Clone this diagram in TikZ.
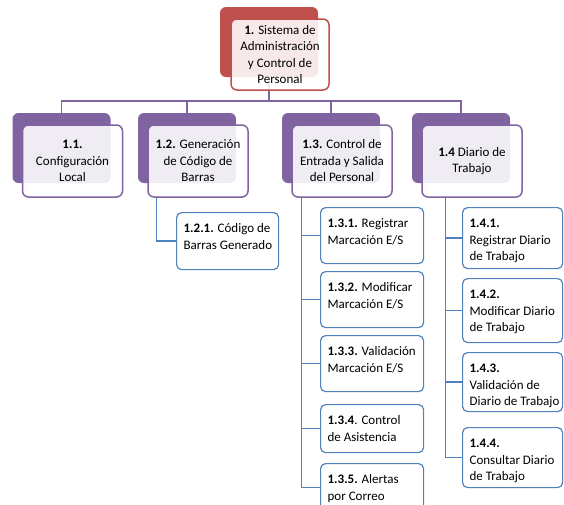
\documentclass[tikz,border=0pt]{standalone}
\usepackage{fontspec}
\setmainfont{Carlito}
\usetikzlibrary{backgrounds}
\definecolor{cred}{HTML}{C0504D}
\definecolor{cpurple}{HTML}{8064A2}
\definecolor{cblue}{HTML}{4F81BD}
\newcommand{\leafbox}[3]{\parbox[c][#1][t]{#2}{\begin{tabular}[t]{@{}l@{}}\rule{0pt}{20pt}#3\end{tabular}}}
\begin{document}
\begin{tikzpicture}[x=1pt,y=-1pt,
  font=\fontsize{13pt}{16.5pt}\selectfont,
  back/.style={fill=#1, rounded corners=6pt, minimum width=98pt, minimum height=70pt, inner sep=0pt},
  front/.style={draw=#1, line width=1.5pt, fill=white, fill opacity=0.88, text opacity=1,
    rounded corners=6pt, minimum width=100pt, minimum height=72pt, inner sep=0pt,
    align=center, text=black},
  leaf/.style={draw=cblue, line width=1.2pt, fill=white, rounded corners=5pt,
    inner xsep=7pt, inner ysep=0pt, anchor=north west},
  pconn/.style={draw=cpurple, line width=1.5pt},
  bconn/.style={draw=cblue, line width=1.5pt}]
\useasboundingbox (0,0) rectangle (564,504);
\clip (0,0) rectangle (564,504);

% root
\node[back=cred] (rb) at (269,42) {};
\node[front=cred, minimum width=98pt, minimum height=71pt] (r) at (280,54.5)
  {\textbf{1.} Sistema de\\Administración\\y Control de\\Personal};

% level 2
\node[back=cpurple] (n11b) at (61.5,148) {};
\node[front=cpurple] (n11) at (72.5,161) {\textbf{1.1.}\\Configuración\\Local};
\node[back=cpurple] (n12b) at (187,148) {};
\node[front=cpurple] (n12) at (198,161) {\textbf{1.2.} Generación\\de Código de\\Barras};
\node[back=cpurple] (n13b) at (331,148) {};
\node[front=cpurple] (n13) at (342,161) {\textbf{1.3.} Control de\\Entrada y Salida\\del Personal};
\node[back=cpurple] (n14b) at (461,148) {};
\node[front=cpurple] (n14) at (472,161) {\textbf{1.4} Diario de\\Trabajo};

% level 3
\node[leaf] (n121) at (176,212) {\leafbox{57pt}{88pt}{\textbf{1.2.1.} Código de\\Barras Generado}};
\node[leaf] (n131) at (320,207) {\leafbox{56pt}{89pt}{\textbf{1.3.1.} Registrar\\Marcación E/S}};
\node[leaf] (n132) at (320,271) {\leafbox{56pt}{89pt}{\textbf{1.3.2.} Modificar\\Marcación E/S}};
\node[leaf] (n133) at (320,335) {\leafbox{56pt}{89pt}{\textbf{1.3.3.} Validación\\Marcación E/S}};
\node[leaf] (n134) at (320,404) {\leafbox{48pt}{89pt}{\textbf{1.3.4}. Control\\de Asistencia}};
\node[leaf] (n135) at (320,463) {\leafbox{48pt}{89pt}{\textbf{1.3.5.} Alertas\\por Correo}};
\node[leaf] (n141) at (462,207) {\leafbox{61pt}{86pt}{\textbf{1.4.1.}\\Registrar Diario\\de Trabajo}};
\node[leaf] (n142) at (462,278) {\leafbox{64pt}{86pt}{\textbf{1.4.2.}\\Modificar Diario\\de Trabajo}};
\node[leaf] (n143) at (462,352) {\leafbox{59pt}{86pt}{\textbf{1.4.3.}\\Validación de\\Diario de Trabajo}};
\node[leaf] (n144) at (462,427) {\leafbox{60pt}{86pt}{\textbf{1.4.4.}\\Consultar Diario\\de Trabajo}};

\begin{pgfonlayer}{background}
  \draw[pconn] (rb.south) -- ++(0,24);
  \draw[pconn] (n11b.north) -- ++(0,-12) -| (n14b.north);
  \draw[pconn] (n12b.north) -- ++(0,-12);
  \draw[pconn] (n13b.north) -- ++(0,-12);
  \draw[bconn] (n12.south west) ++(9,0) |- (n121.west);
  \foreach \c in {n131,n132,n133,n134,n135}
    \draw[bconn] (n13.south west) ++(10,0) |- (\c.west);
  \foreach \c in {n141,n142,n143,n144}
    \draw[bconn] (n14.south west) ++(24,0) |- (\c.west);
\end{pgfonlayer}
\end{tikzpicture}
\end{document}
